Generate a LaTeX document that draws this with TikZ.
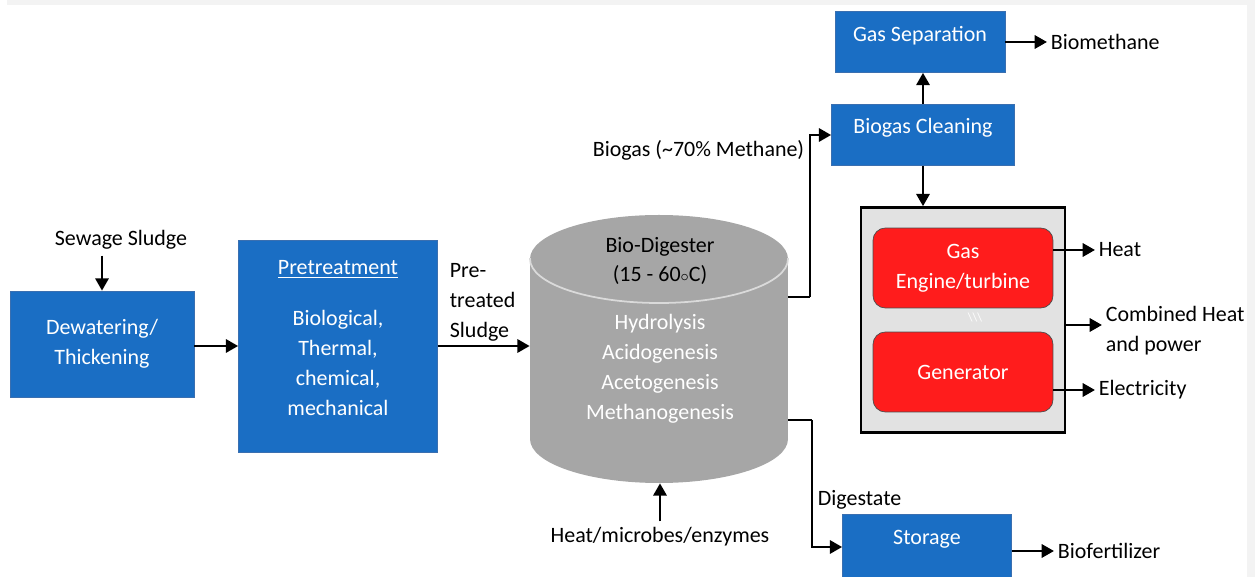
\documentclass[tikz,border=0pt]{standalone}
\usepackage{fontspec}
\setmainfont{Carlito}
\usetikzlibrary{arrows.meta, positioning}
\definecolor{boxblue}{HTML}{1A6EC4}
\definecolor{boxedge}{HTML}{3A6FB0}
\definecolor{chpred}{HTML}{FF1C1C}
\definecolor{chpgray}{HTML}{E2E2E2}
\definecolor{diggray}{HTML}{A6A6A6}
\definecolor{digrim}{HTML}{DADADA}
\definecolor{edgegray}{HTML}{F3F3F3}

\begin{document}
\begin{tikzpicture}[x=0.02cm, y=-0.02cm,
  font=\fontsize{12.5pt}{17pt}\selectfont,
  proc/.style={draw=boxedge, fill=boxblue, text=white, align=center, inner sep=0pt},
  unit/.style={draw=black!70, fill=chpred, text=white, rounded corners=7pt,
               align=center, minimum width=3.6cm, minimum height=1.6cm},
  lbl/.style={inner sep=2pt, align=left},
  arr/.style={-{Triangle[length=7pt, width=7.5pt]}, line width=1.5pt}
]
  \useasboundingbox (0,0) rectangle (1255,577);
  \fill[edgegray] (7,0) rectangle (1255,5);
  \fill[edgegray] (1247,0) rectangle (1255,577);

  % sludge line
  \node (sew) at (121,240) {Sewage Sludge};
  \node[proc, minimum width=3.68cm, minimum height=2.12cm] (dew) at (102,344)
    {Dewatering/\\Thickening};
  \node[proc, minimum width=3.98cm, minimum height=4.24cm] (pre) at (338,346) {};
  \node[text=white, align=center] (pretxt) at (338,338)
    {\underline{Pretreatment}\\[12pt]Biological,\\Thermal,\\chemical,\\mechanical};
  \node[lbl, anchor=west] (pts) at (446,302) {Pre-\\treated\\Sludge};

  \draw[arr] (dew.north |- sew.south) -- (dew.north);
  \draw[arr] (dew.east |- pre) -- (pre.west);

  % digester
  \node[minimum width=5.16cm, minimum height=5.36cm, inner sep=0pt] (dig) at (659,349) {};
  \fill[diggray] (530,259) rectangle (788,439);
  \fill[diggray] (659,259) ellipse [x radius=129, y radius=44];
  \fill[diggray] (659,439) ellipse [x radius=129, y radius=44];
  \begin{scope}
    \clip (520,259) rectangle (800,320);
    \draw[digrim, line width=1pt] (659,259) ellipse [x radius=129, y radius=44];
  \end{scope}
  \node[align=center] (dtitle) at (660,261) {Bio-Digester\\(15 - 60$\scriptstyle\circ$C)};
  \node[text=white, align=center] (dsteps) at (660,369)
    {Hydrolysis\\Acidogenesis\\Acetogenesis\\Methanogenesis};
  \node (hme) at (660,537) {Heat/microbes/enzymes};

  \draw[arr] (pre.east) -- (pre.east -| dig.west);
  \draw[arr] (hme.north) -- (hme.north |- dig.south);

  % gas side
  \node[proc, minimum width=3.66cm, minimum height=1.22cm] (clean) at (923,135) {};
  \node[text=white] (cleantxt) at (923,128) {Biogas Cleaning};
  \node[proc, minimum width=3.4cm, minimum height=1.22cm] (sep) at (920,42) {};
  \node[text=white] (septxt) at (920,36) {Gas Separation};
  \node[lbl, anchor=west] (bmeth) at (1047,42) {Biomethane};
  \node[lbl, anchor=east] (bgas) at (808,150) {Biogas (\textasciitilde70\% Methane)};
  \coordinate (gasout) at (788,297);

  \draw[line width=1.5pt] (gasout) -- ++(22,0) coordinate (gasup);
  \draw[arr] (gasup) |- (clean.west);
  \draw[arr] (clean.north) -- (clean.north |- sep.south);
  \draw[arr] (sep.east) -- (bmeth.west);

  % CHP unit
  \node[draw=black, line width=1.5pt, fill=chpgray, minimum width=4.08cm,
        minimum height=4.5cm] (chp) at (963,320) {};
  \node[unit] (eng) at (963,268) {Gas\\Engine/turbine};
  \node[unit] (gen) at (963,372) {Generator};
  \node[text=white, font=\fontsize{7pt}{8pt}\selectfont] (mark) at (975,317)
    {\textbackslash\textbackslash\textbackslash};
  \node[lbl, anchor=west] (heat) at (1095,250) {Heat};
  \node[lbl, anchor=west] (chpl) at (1102,331) {Combined Heat\\and power};
  \node[lbl, anchor=west] (elec) at (1095,390) {Electricity};

  \draw[arr] (clean.south) -- (clean.south |- chp.north);
  \draw[arr] (eng.east |- heat) -- (heat.west);
  \draw[arr] (chp.east |- 0,325) -- (chpl.west |- 0,325);
  \draw[arr] (gen.east |- elec) -- (elec.west);

  % digestate
  \node[proc, minimum width=3.38cm, minimum height=1.32cm] (store) at (927,547) {};
  \node[text=white] (storetxt) at (927,539) {Storage};
  \node[lbl, anchor=west] (digl) at (814,500) {Digestate};
  \node[lbl, anchor=west] (biof) at (1054,551) {Biofertilizer};
  \coordinate (digout) at (788,420);

  \draw[line width=1.5pt] (digout) -- ++(24,0) coordinate (digdown);
  \draw[arr] (digdown) |- (store.west);
  \draw[arr] (store.east |- biof) -- (biof.west);
\end{tikzpicture}
\end{document}
